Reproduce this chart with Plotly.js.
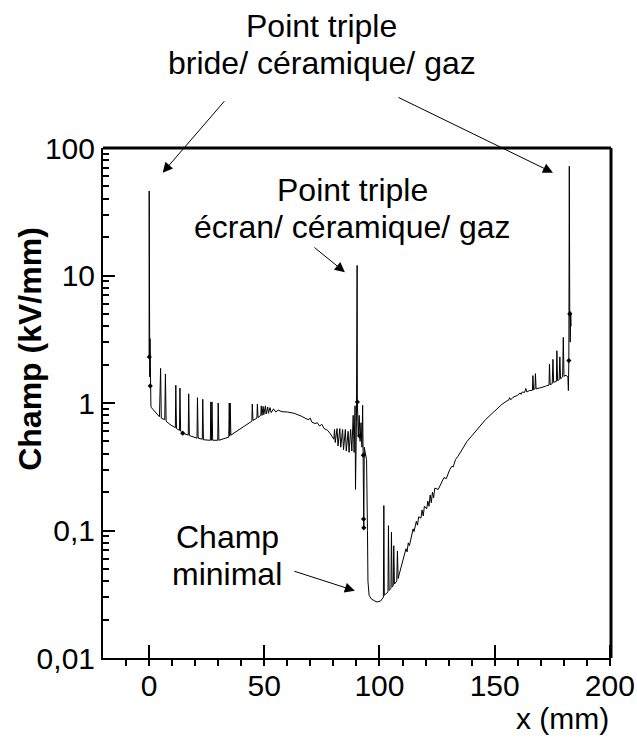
<!DOCTYPE html>
<html>
<head>
<meta charset="utf-8">
<script src="https://cdn.plot.ly/plotly-3.0.1.min.js"></script>
<style>html,body{margin:0;padding:0;background:#fff;}#chart{width:637px;height:749px;}</style>
</head>
<body>
<div id="chart"></div>
<script>
// Field along the insulator surface (x in mm, field in kV/mm)
const xPos = [0.0,0.05,0.1,0.2,0.3,0.4,0.5,0.6,0.8,1.0,2.5,4.5,5.0,5.3,6.8,7.1,7.4,9,11.4,11.6,11.9,13.2,13.4,13.7,14.6,17.0,17.2,17.5,20.8,21.0,21.3,23.1,23.3,23.6,26.6,26.8,27.1,27.3,27.6,29.8,30.0,30.3,34.6,34.8,35.0,35.2,35.5,40,44.6,44.8,45.1,46.8,47.0,47.3,48.5,48.7,49,49.5,49.8,50.5,50.8,51.5,51.8,52.5,53,54,55,56,57.6,60,63,66,68,69,70,70.6,72,73,74,75,76,77.5,78.5,79.5,80.2,80.5,80.8,81.6,82,82.8,83.2,84,84.4,85.2,85.6,86.4,86.8,87.5,88,88.6,89,89.4,89.6,90.0,90.3,90.4,90.8,91.2,91.6,92.0,92.4,92.7,93.0,93.1,93.2,93.4,94.4,94.8,95.0,95.5,96.5,98,99,100.5,101.7,101.9,102.1,103.7,103.9,104.2,105,105.2,105.5,106,106.2,106.5,107.5,107.8,108.1,108.6,110,111.5,112,112.5,113,114.6,115,116,116.5,117,118,118.5,119,119.5,120.5,121,121.5,122,122.5,123,123.5,124,125.5,127,128,129,130.5,131.5,132,133,134,136,138,140,142,143.6,146,148,150.9,153,155,156,156.5,157,158,160,161,161.5,162,163,163.5,164,165,166.4,166.6,166.9,167.5,167.7,168,169,170,172,172.6,173.6,173.8,174.1,175,175.3,175.6,176.8,177,177.3,178,178.3,178.6,179.5,179.8,180.1,181,181.8,182.0,182.2,182.4,182.6,182.8,183.0,183.2];
const champ = [2.3,46,2.3,3.8,1.6,3.2,1.36,1.9,0.95,0.92,0.85,0.78,1.87,0.76,0.74,1.69,0.72,0.68,0.64,1.38,0.63,0.61,1.31,0.6,0.58,0.56,1.18,0.555,0.53,1.1,0.53,0.52,1.07,0.515,0.51,1.02,0.51,1.02,0.51,0.51,1.0,0.51,0.54,1.0,0.55,1.0,0.56,0.63,0.72,0.98,0.73,0.76,0.98,0.77,0.8,0.95,0.8,0.94,0.81,0.95,0.82,0.93,0.83,0.92,0.84,0.9,0.85,0.88,0.855,0.85,0.83,0.79,0.76,0.74,0.76,0.71,0.69,0.7,0.66,0.68,0.63,0.61,0.58,0.55,0.52,0.62,0.49,0.63,0.46,0.63,0.45,0.62,0.43,0.62,0.42,0.6,0.41,0.62,0.42,0.8,0.41,0.95,0.21,0.7,12,1.02,0.55,0.8,0.5,0.7,0.45,0.96,0.39,0.123,0.105,0.45,0.36,0.1,0.04,0.031,0.029,0.028,0.0275,0.028,0.03,0.157,0.031,0.033,0.109,0.034,0.035,0.097,0.036,0.037,0.076,0.038,0.04,0.069,0.042,0.0455,0.058,0.072,0.068,0.08,0.076,0.103,0.098,0.118,0.11,0.128,0.125,0.145,0.13,0.155,0.148,0.17,0.155,0.19,0.165,0.2,0.18,0.215,0.21,0.235,0.26,0.255,0.3,0.32,0.315,0.36,0.38,0.435,0.5,0.55,0.61,0.66,0.74,0.8,0.9,0.97,1.03,1.05,1.1,1.06,1.11,1.15,1.2,1.17,1.22,1.21,1.3,1.22,1.25,1.26,1.64,1.27,1.29,1.7,1.29,1.3,1.32,1.35,1.37,1.38,2.02,1.39,1.42,2.2,1.45,1.48,2.57,1.5,1.52,2.3,1.55,1.6,3.27,1.62,1.65,1.6,1.25,2.15,72,5.0,3.0,5.2,4.0];
// Computed nodes shown as small markers
const nodeX = [0.1,0.5,14.6,90.4,91.4,93.0,93.1,93.2,182.2,182.6];
const nodeY = [2.3,1.36,0.58,1.02,0.55,0.39,0.123,0.105,2.15,5.0];
// Axis tick labels and titles
const yTickVals = [0.01,0.1,1,10,100];
const yTickText = ['0,01','0,1','1','10','100'];
const xTickVals = [0,50,100,150,200];
const xTickText = ['0','50','100','150','200'];
const yTitle = 'Champ (kV/mm)';
const xTitle = 'x (mm)';
// Callout texts
const noteFlange = ['Point triple', 'bride/ céramique/ gaz'];
const noteScreen = ['Point triple', 'écran/ céramique/ gaz'];
const noteMin = ['Champ', 'minimal'];

const FONT = 'Liberation Sans, Arial, sans-serif';
const L = Math.log10;

const traces = [
  {x: xPos, y: champ, type: 'scatter', mode: 'lines', line: {color: '#000', width: 1}, hoverinfo: 'none', showlegend: false},
  {x: nodeX, y: nodeY, type: 'scatter', mode: 'markers', marker: {symbol: 'diamond', size: 4, color: '#000'}, hoverinfo: 'none', showlegend: false}
];

const arrowStyle = {showarrow: true, arrowhead: 2, arrowsize: 2, arrowwidth: 1, arrowcolor: '#000', text: '', xref: 'x', yref: 'y'};
function note(text, x, y) {
  return {text: text, xref: 'paper', yref: 'paper', x: x, y: y, xanchor: 'center', yanchor: 'middle', showarrow: false, font: {size: 32, family: FONT}};
}

const layout = {
  width: 637, height: 749,
  margin: {l: 103, r: 26, t: 148, b: 91, pad: 0},
  paper_bgcolor: '#fff', plot_bgcolor: '#fff',
  font: {family: FONT, size: 30, color: '#000'},
  showlegend: false,
  xaxis: {
    range: [-20, 200.5], showgrid: false, zeroline: false,
    showline: true, linewidth: 2, linecolor: '#000',
    tickmode: 'array', tickvals: xTickVals, ticktext: xTickText,
    ticks: 'inside', ticklen: 13, tickwidth: 2, tickcolor: '#000',
    minor: {dtick: 10, tick0: 0, ticks: 'outside', ticklen: 6, tickwidth: 2, tickcolor: '#000', showgrid: false},
    tickfont: {size: 30, family: FONT}
  },
  yaxis: {
    type: 'log', range: [-2, 2], showgrid: false, zeroline: false,
    showline: true, linewidth: 2, linecolor: '#000',
    tickmode: 'array', tickvals: yTickVals, ticktext: yTickText,
    ticks: 'inside', ticklen: 12, tickwidth: 2, tickcolor: '#000',
    minor: {dtick: 'D1', ticks: 'inside', ticklen: 6, tickwidth: 2, tickcolor: '#000', showgrid: false},
    tickfont: {size: 30, family: FONT}
  },
  shapes: [
    {type: 'line', xref: 'paper', yref: 'paper', x0: 0, x1: 1, y0: 1, y1: 1, line: {color: '#000', width: 3}},
    {type: 'line', xref: 'paper', yref: 'paper', x0: 1, x1: 1, y0: 0, y1: 1, line: {color: '#000', width: 3}}
  ],
  annotations: [
    {text: '<b>' + yTitle + '</b>', xref: 'paper', yref: 'paper', x: -0.144, y: 0.606, textangle: -90, xanchor: 'center', yanchor: 'middle', showarrow: false, font: {size: 32, family: FONT}},
    {text: xTitle, xref: 'paper', yref: 'paper', x: 1.0, y: -0.118, xanchor: 'right', yanchor: 'middle', showarrow: false, font: {size: 30, family: FONT}},
    note(noteFlange[0], 0.431, 1.239),
    note(noteFlange[1], 0.431, 1.167),
    note(noteScreen[0], 0.492, 0.918),
    note(noteScreen[1], 0.492, 0.845),
    note(noteMin[0], 0.245, 0.237),
    note(noteMin[1], 0.245, 0.165),
    Object.assign({}, arrowStyle, {x: 5.9, y: L(64), ax: 63, ay: -73}),
    Object.assign({}, arrowStyle, {x: 175.3, y: L(64), ax: -156, ay: -76}),
    Object.assign({}, arrowStyle, {x: 85.0, y: L(10.6), ax: -32, ay: -26}),
    Object.assign({}, arrowStyle, {x: 89.3, y: L(0.0337), ax: -62, ay: -20})
  ]
};

Plotly.newPlot('chart', traces, layout, {staticPlot: true, displayModeBar: false});
</script>
</body>
</html>
